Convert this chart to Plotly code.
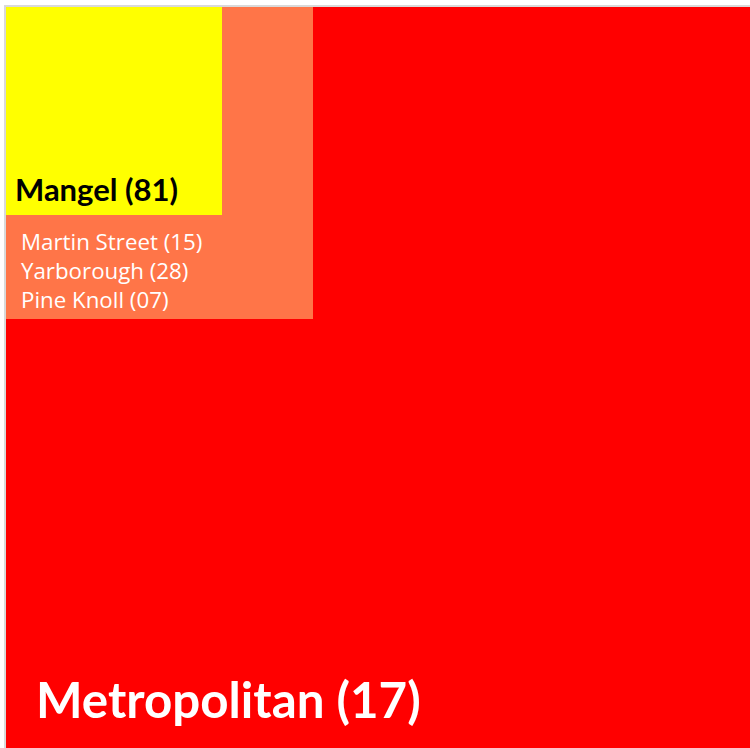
import plotly.graph_objects as go

# Data
names = ["Metropolitan", "Martin Street", "Yarborough", "Pine Knoll", "Mangel"]
codes = ["17", "15", "28", "07", "81"]
# nested blocks: width / height in chart units
block_names = ["Metropolitan", "Orange group", "Mangel"]
block_w = [800, 307, 216]
block_h = [800, 312, 208]
block_colors = ["#FF0000", "#FF7548", "#FFFF00"]

fig = go.Figure()

shapes = []
for w, h, c in zip(block_w, block_h, block_colors):
    shapes.append(dict(type="rect", xref="x", yref="y", x0=0, y0=0, x1=w, y1=h,
                       fillcolor=c, line=dict(width=0), layer="below"))

def lab(i):
    return f"{names[i]} ({codes[i]})"

small_text = "<br>".join(lab(i) for i in (1, 2, 3))

annotations = [
    dict(text="<b>" + lab(0) + "</b>", x=28, y=692, font=dict(size=49.3, color="white")),
    dict(text=small_text, x=13, y=263, align="left",
         font=dict(size=22.3, color="white", family="Open Sans")),
    dict(text="<b>" + lab(4) + "</b>", x=7, y=182, font=dict(size=31, color="black")),
]
for a in annotations:
    a.update(xref="x", yref="y", xanchor="left", yanchor="middle", showarrow=False)

# invisible trace to establish axes
fig.add_trace(go.Scatter(x=[0], y=[0], mode="markers", marker=dict(opacity=0),
                         hoverinfo="skip", showlegend=False))

fig.update_layout(
    width=750, height=748, autosize=False,
    margin=dict(l=4, r=0, t=5, b=0),
    paper_bgcolor="white",
    plot_bgcolor="#D9D9D9",
    font=dict(family="Lato"),
    shapes=shapes,
    annotations=annotations,
    xaxis=dict(range=[-2, 744], visible=False, fixedrange=True),
    yaxis=dict(range=[741, -2], visible=False, fixedrange=True),
    showlegend=False,
)

fig.write_html("out.html", config={"displayModeBar": False},
               post_script="document.body.style.margin='0';document.body.style.overflow='hidden';")
